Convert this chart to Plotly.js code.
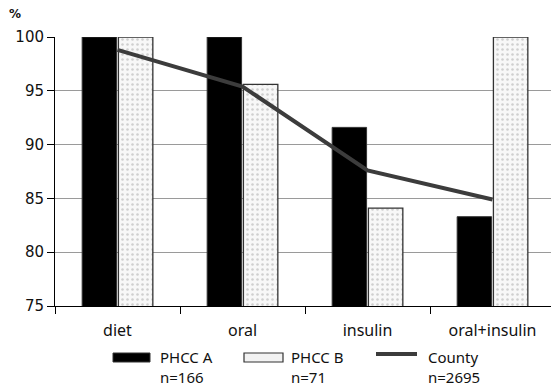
<!DOCTYPE html>
<html>
<head>
<meta charset="utf-8">
<script src="https://cdn.plot.ly/plotly-3.0.1.min.js"></script>
<style>html,body{margin:0;padding:0;background:#fff;}#chart{width:551px;height:390px;}</style>
</head>
<body>
<div id="chart"></div>
<script>
// Data
var categories = ["diet", "oral", "insulin", "oral+insulin"];
var phccA = [100, 100, 91.6, 83.3];
var phccB = [100, 95.6, 84.1, 100];
var county = [98.8, 95.4, 87.6, 84.9];
var seriesNames = ["PHCC A", "PHCC B", "County"];
var seriesN = ["n=166", "n=71", "n=2695"];
var yTicks = [75, 80, 85, 90, 95, 100];

var L = 55, T = 37, W = 496, H = 269;
function px(x){ return (x - L) / W; }
function py(y){ return (T + H - y) / H; }

var traces = [
  {type: "bar", x: categories, y: phccA, name: seriesNames[0],
   marker: {color: "#000000", line: {color: "#333333", width: 1}}},
  {type: "bar", x: categories, y: phccB, name: seriesNames[1],
   marker: {color: "#f4f4f4", line: {color: "#333333", width: 1.3},
            pattern: {shape: ".", fgcolor: "#cfcfcf", bgcolor: "#f7f7f7", size: 5, solidity: 0.2}}},
  {type: "scatter", mode: "lines", x: categories, y: county, name: seriesNames[2],
   line: {color: "#3c3c3c", width: 4}}
];

var legFont = {family: "Noto Sans, sans-serif", size: 15, color: "#111"};
var shapes = [
  {type: "rect", xref: "paper", yref: "paper", x0: px(113), x1: px(150), y0: py(362), y1: py(353),
   fillcolor: "#000", line: {color: "#333", width: 1}},
  {type: "rect", xref: "paper", yref: "paper", x0: px(244), x1: px(283), y0: py(362), y1: py(353),
   fillcolor: "#f2f2f2", line: {color: "#333", width: 1.2}},
  {type: "line", xref: "paper", yref: "paper", x0: px(376), x1: px(417), y0: py(354), y1: py(354),
   line: {color: "#3c3c3c", width: 4}}
];
var textX = [158, 289, 426];
var annotations = [
  {xref: "paper", yref: "paper", x: px(15), y: py(14), text: "<b>%</b>", showarrow: false,
   xanchor: "center", yanchor: "middle", font: {family: "DejaVu Sans, sans-serif", size: 12, color: "#111"}}
];
for (var i = 0; i < seriesNames.length; i++) {
  annotations.push({xref: "paper", yref: "paper", x: px(textX[i]), y: py(345), text: seriesNames[i] + "<br>" + seriesN[i],
    showarrow: false, xanchor: "left", yanchor: "top", align: "left", font: legFont});
}

var layout = {
  width: 551, height: 390,
  margin: {l: L, r: 0, t: T, b: 390 - T - H, pad: 0},
  paper_bgcolor: "#fff", plot_bgcolor: "#fff",
  showlegend: false,
  barmode: "group", bargap: 0.42, bargroupgap: 0.05,
  xaxis: {type: "category", range: [-0.5, 3.468], tickson: "boundaries", ticks: "outside", ticklen: 7,
          tickcolor: "#000", tickwidth: 1, showline: true, linecolor: "#000", linewidth: 1,
          showgrid: false, zeroline: false, ticklabelstandoff: 10,
          tickfont: {family: "Noto Sans, sans-serif", size: 16, color: "#111"}},
  yaxis: {range: [75, 100], tickvals: yTicks, ticks: "outside", ticklen: 7, tickcolor: "#000",
          showline: true, linecolor: "#000", linewidth: 1, showgrid: true, gridcolor: "#9a9a9a",
          gridwidth: 1, zeroline: false,
          tickfont: {family: "DejaVu Sans, sans-serif", size: 15, color: "#111"}},
  shapes: shapes,
  annotations: annotations
};

Plotly.newPlot("chart", traces, layout, {staticPlot: true, displayModeBar: false});
</script>
</body>
</html>
